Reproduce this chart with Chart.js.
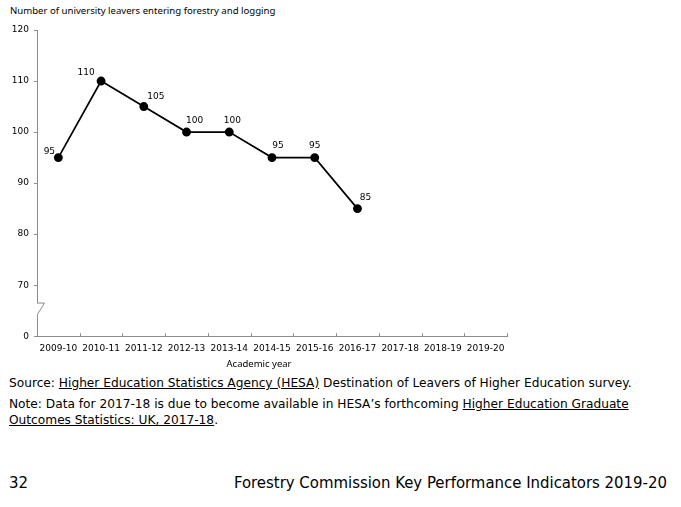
<!DOCTYPE html>
<html>
<head>
<meta charset="utf-8">
<script src="https://cdn.jsdelivr.net/npm/chart.js@4"></script>
<style>
  html, body { margin: 0; padding: 0; background: #fff; }
  body { width: 681px; height: 507px; position: relative; overflow: hidden; font-family: "DejaVu Sans", sans-serif; color: #000; }
  #wrap { position: absolute; left: 0; top: 0; width: 681px; height: 361px; }
  .ytitle { position: absolute; left: 10px; top: 4px; font: 9.6px "Noto Sans", sans-serif; }
  .xtitle { position: absolute; left: 259px; top: 357px; transform: translateX(-50%); font: 9.5px "Noto Sans", sans-serif; white-space: nowrap; }
  .src { position: absolute; left: 9px; top: 375px; font-size: 12.2px; line-height: 16px; width: 670px; }
  .src p { margin: 0 0 5px 0; }
  .u { text-decoration: underline; }
  .pg { position: absolute; left: 9px; top: 473px; font: 16.6px "DejaVu Sans Condensed", sans-serif; }
  .ft { position: absolute; right: 14px; top: 473px; font: 16.6px "DejaVu Sans Condensed", sans-serif; }
</style>
</head>
<body>
<div class="ytitle">Number of university leavers entering forestry and logging</div>
<div id="wrap"><canvas id="chart"></canvas></div>
<div class="xtitle">Academic year</div>
<div class="src">
  <p>Source: <span class="u">Higher Education Statistics Agency (HESA)</span> Destination of Leavers of Higher Education survey.</p>
  <p>Note: Data for 2017-18 is due to become available in HESA’s forthcoming <span class="u">Higher Education Graduate<br>Outcomes Statistics: UK, 2017-18</span>.</p>
</div>
<div class="pg">32</div>
<div class="ft">Forestry Commission Key Performance Indicators 2019-20</div>
<script>
// academic years on the x axis
const years = ['2009-10', '2010-11', '2011-12', '2012-13', '2013-14', '2014-15',
  '2015-16', '2016-17', '2017-18', '2018-19', '2019-20'];
// leavers entering forestry and logging (no data after 2016-17)
const leavers = [95, 110, 105, 100, 100, 95, 95, 85, null, null, null];
// y ticks: the bottom one stands for 0 below the axis break
const yTicks = [60, 70, 80, 90, 100, 110, 120];
const yTickText = ['0', '70', '80', '90', '100', '110', '120'];

const axisGrey = '#8c8c8c';
const tickFont = { family: 'DejaVu Sans', size: 9 };
// where each value label sits relative to its point
const labelNudge = [[-9, -6], [-15, -8], [12, -10], [8, -11], [3, -11], [6, -12], [0, -12], [8, -11]];

const extras = {
  id: 'extras',
  afterDraw(chart) {
    const c = chart.ctx, x = chart.scales.x, y = chart.scales.y;
    const a = chart.chartArea;
    c.save();
    // x tick marks point up into the plot
    c.strokeStyle = axisGrey;
    c.lineWidth = 1;
    const step = (a.right - a.left) / years.length;
    for (let i = 1; i <= years.length; i++) {
      const px = Math.round(a.left + i * step) + 0.5;
      c.beginPath();
      c.moveTo(px, a.bottom);
      c.lineTo(px, a.bottom - 3);
      c.stroke();
    }
    // axis break between 0 and 70
    const y70 = y.getPixelForValue(70), y0 = y.getPixelForValue(60);
    const b1 = y70 + (y0 - y70) * 0.36, b2 = y70 + (y0 - y70) * 0.57;
    const ax = x.left + 0.5;
    c.fillStyle = '#fff';
    c.fillRect(ax - 2, b1, 4, b2 - b1);
    c.beginPath();
    c.moveTo(ax, b1 - 0.5);
    c.lineTo(ax + 7, b1 - 0.5);
    c.lineTo(ax, b2);
    c.stroke();
    // value labels
    c.fillStyle = '#000';
    c.font = '9px "DejaVu Sans"';
    c.textAlign = 'center';
    c.textBaseline = 'middle';
    chart.getDatasetMeta(0).data.forEach((p, i) => {
      if (leavers[i] == null) return;
      const n = labelNudge[i];
      c.fillText(String(leavers[i]), p.x + n[0], p.y + n[1]);
    });
    c.restore();
  }
};

new Chart(document.getElementById('chart'), {
  type: 'line',
  data: {
    labels: years,
    datasets: [{
      data: leavers,
      borderColor: '#000',
      backgroundColor: '#000',
      borderWidth: 1.7,
      pointRadius: 3.6,
      pointHoverRadius: 3.6,
      tension: 0,
      spanGaps: false
    }]
  },
  options: {
    responsive: true,
    maintainAspectRatio: false,
    animation: false,
    layout: { padding: { left: 0, right: 174, top: 30, bottom: 0 } },
    plugins: { legend: { display: false }, tooltip: { enabled: false } },
    scales: {
      x: {
        offset: true,
        grid: { drawOnChartArea: false, drawTicks: false },
        border: { color: axisGrey },
        ticks: { color: '#000', font: tickFont, padding: 7, maxRotation: 0, autoSkip: false }
      },
      y: {
        min: 60,
        max: 120,
        afterFit: s => { s.width = 37; },
        afterBuildTicks: s => { s.ticks = yTicks.map(v => ({ value: v })); },
        grid: { drawOnChartArea: false, tickLength: 3, color: axisGrey },
        border: { color: axisGrey },
        ticks: {
          color: '#000', font: tickFont, padding: 5,
          callback: v => yTickText[yTicks.indexOf(v)]
        }
      }
    }
  },
  plugins: [extras]
});
</script>
</body>
</html>
